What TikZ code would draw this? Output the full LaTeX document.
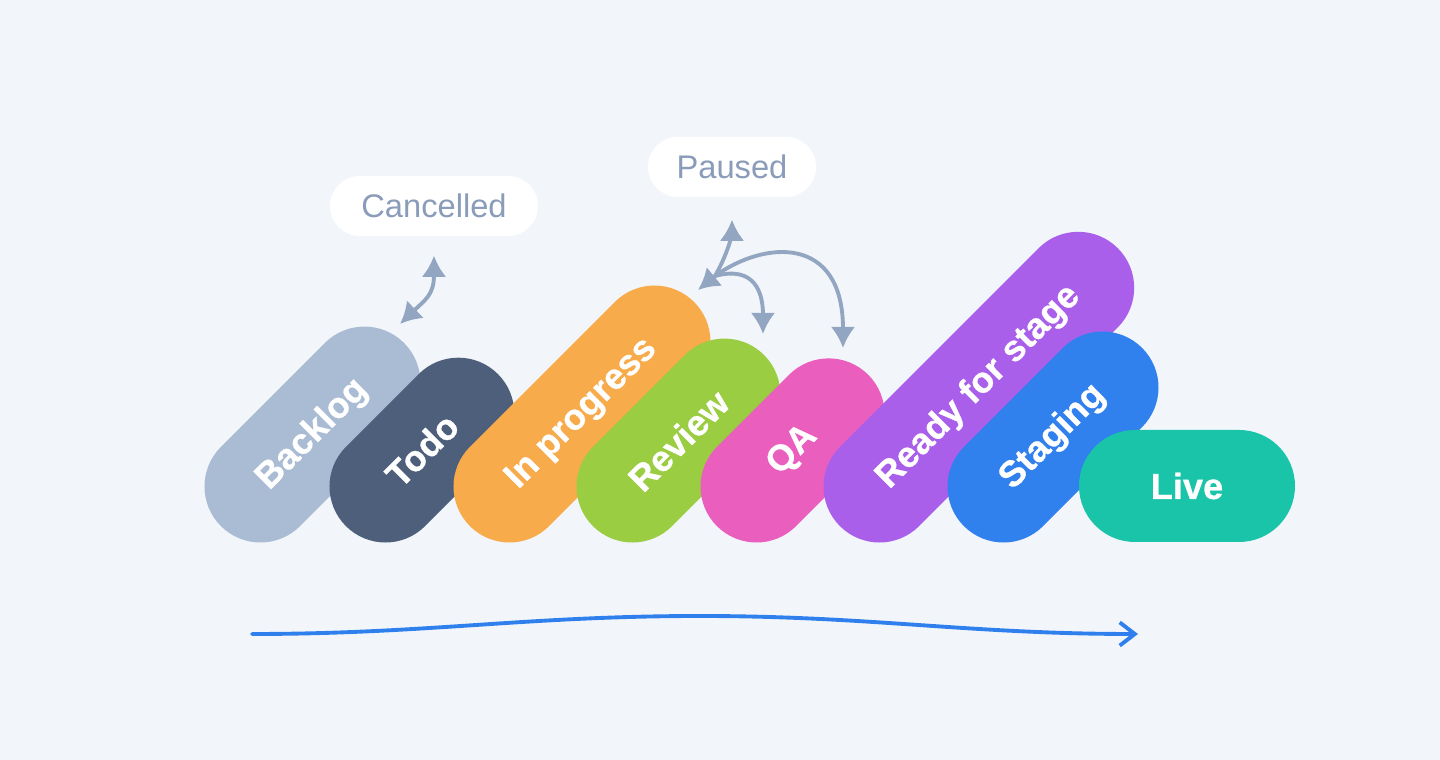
\documentclass[tikz,border=0pt]{standalone}
\usepackage{fontspec}
\setmainfont{Liberation Sans}
\newfontfamily\stagefont[FakeBold=0.7]{Liberation Sans Bold}
\usepackage{tikz}
\usetikzlibrary{arrows.meta, positioning, shapes.misc}
\usepackage{xcolor}
\definecolor{bgcol}{HTML}{F2F6FB}
\definecolor{linkcol}{HTML}{93A6C1}
\definecolor{tagtext}{HTML}{8A9CB9}
\definecolor{flowcol}{HTML}{2F80ED}
\definecolor{backlogcol}{HTML}{AABCD3}
\definecolor{todocol}{HTML}{4D5F7B}
\definecolor{progresscol}{HTML}{F7AB4B}
\definecolor{reviewcol}{HTML}{9BCD42}
\definecolor{qacol}{HTML}{EA5FBE}
\definecolor{readycol}{HTML}{A95FEA}
\definecolor{stagingcol}{HTML}{3080ED}
\definecolor{livecol}{HTML}{19C4A8}
\tikzset{%
	every stage/.style={
		rounded rectangle,
		minimum height=1.12cm,
		inner sep=0pt,
		text=white,
		font=\stagefont\fontsize{10.3}{12}\selectfont
	},
	tilted/.style={
		every stage,
		rotate=45,
		anchor=west
	},
	tip/.style={-{Latex[length=6pt,width=7pt]}},
}

\begin{document}
\begin{tikzpicture}[line cap=round, line join=round]
			\tikzstyle{tag}=[fill=white, rounded rectangle, minimum height=0.6cm, inner sep=0pt, text=tagtext, font=\fontsize{9.3}{11}\selectfont]
			\tikzstyle{link}=[draw=linkcol, line width=1.1pt, {Latex[length=6pt,width=7pt]}-{Latex[length=6pt,width=7pt]}]
			
			\fill[bgcol] (0,0) rectangle (14.4,-7.6);
			\useasboundingbox (0,0) rectangle (14.4,-7.6);
			
			% the stages, left to right
			\node[tilted, fill=backlogcol, minimum width=2.59cm](backlog) at (2.204,-5.266){Backlog};
			\node[tilted, fill=todocol, minimum width=2.15cm](todo) at (3.454,-5.266){Todo};
			\node[tilted, fill=progresscol, minimum width=3.17cm](progress) at (4.694,-5.266){In progress};
			\node[tilted, fill=reviewcol, minimum width=2.42cm](review) at (5.924,-5.266){Review};
			\node[tilted, fill=qacol, minimum width=2.14cm](qa) at (7.164,-5.266){QA};
			\node[tilted, fill=readycol, minimum width=3.93cm](ready) at (8.394,-5.266){Ready for stage};
			\node[tilted, fill=stagingcol, minimum width=2.52cm](staging) at (9.634,-5.266){Staging};
			\node[every stage, fill=livecol, minimum width=2.16cm](live) at (11.87,-4.86){Live};
			
			% side states
			\node[tag, minimum width=2.08cm](cancelled) at (4.34,-2.06){Cancelled};
			\node[tag, minimum width=1.68cm](paused) at (7.32,-1.67){Paused};
			
			\coordinate (backtip) at (4.00,-3.24);
			\coordinate (progtip) at (6.98,-2.90);
			\coordinate (hub) at (7.15,-2.76);
			\coordinate (revtip) at (7.63,-3.34);
			\coordinate (qatip) at (8.43,-3.48);
			
			\draw[link, shorten <=0.19cm] (cancelled.south) .. controls (4.34,-2.95) and (4.25,-3.00) .. (backtip);
			
			\draw[link, shorten >=0.22cm] (progtip) -- (hub) to[out=60, in=-90] (paused.south);
			\draw[link, tip] (hub) to[out=15, in=90, looseness=1.4] (revtip);
			\draw[link, tip] (hub) .. controls (7.65,-2.40) and (8.43,-2.35) .. (qatip);
			
			% overall flow
			\coordinate (flowstart) at (2.52,-6.34);
			\coordinate (flowtop) at (7.00,-6.16);
			\coordinate (flowend) at (11.38,-6.34);
			\draw[flowcol, line width=1.1pt, -{Straight Barb[length=4.3pt,width=6.6pt]}] (flowstart) to[out=0, in=180] (flowtop) to[out=0, in=180] (flowend);
		\end{tikzpicture}
\end{document}
